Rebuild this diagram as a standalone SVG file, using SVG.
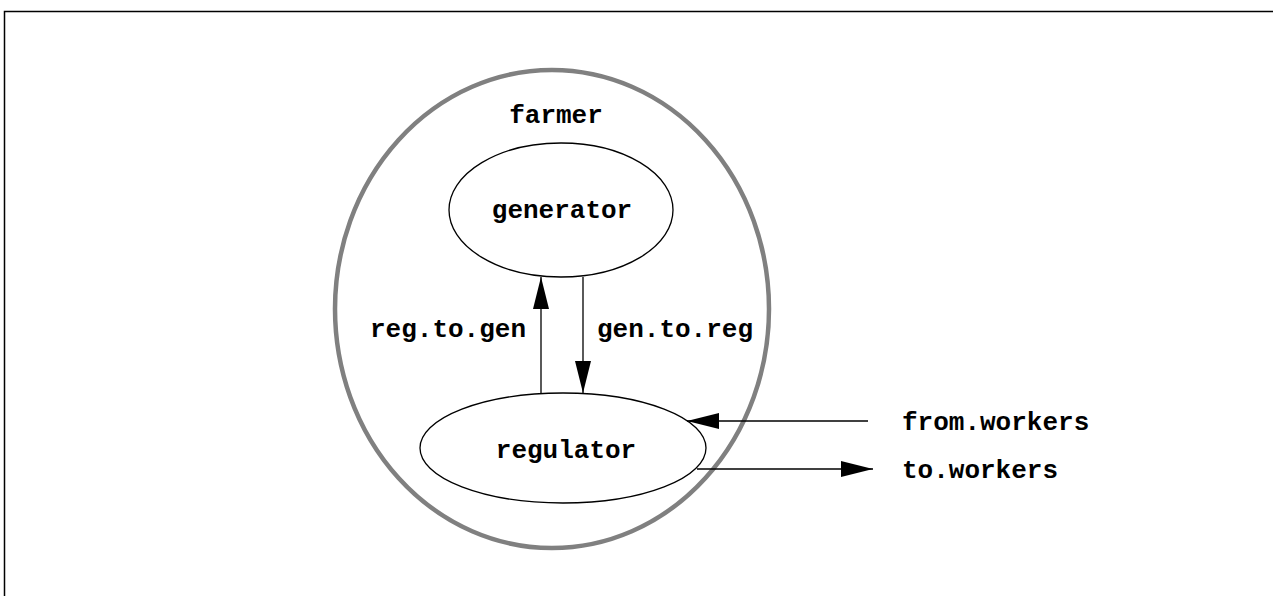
<svg xmlns="http://www.w3.org/2000/svg" width="1273" height="596" viewBox="0 0 1273 596">
<defs>
<style>
.t{font-family:"Liberation Mono","Courier New",monospace;font-weight:bold;font-size:26px;fill:#000}
.n{fill:none;stroke:#000;stroke-width:1.3}
.c{stroke:#000;stroke-width:1.3;fill:none}
</style>
<marker id="ah" viewBox="0 0 32 16" refX="32" refY="8" markerWidth="32" markerHeight="16" markerUnits="userSpaceOnUse" orient="auto">
<path d="M0,0 L32,8 L0,16 Z" fill="#000"/>
</marker>
</defs>
<rect width="1273" height="596" fill="#fff"/>
<rect x="4.5" y="11.5" width="1280" height="600" fill="none" stroke="#000" stroke-width="1.5"/>
<g id="farmer">
<ellipse cx="552" cy="309" rx="217" ry="239" fill="none" stroke="#808080" stroke-width="4.5"/>
<text class="t" x="556" y="123" text-anchor="middle">farmer</text>
</g>
<g id="generator">
<ellipse class="n" cx="561" cy="210" rx="112" ry="67"/>
<text class="t" x="562" y="218" text-anchor="middle">generator</text>
</g>
<g id="regulator">
<ellipse class="n" cx="563" cy="448" rx="143" ry="55"/>
<text class="t" x="566" y="458" text-anchor="middle">regulator</text>
</g>
<g id="connectors">
<line class="c" x1="541" y1="393" x2="541" y2="277" marker-end="url(#ah)"/>
<line class="c" x1="583" y1="277" x2="583" y2="393" marker-end="url(#ah)"/>
<line class="c" x1="868" y1="421" x2="687" y2="421" marker-end="url(#ah)"/>
<line class="c" x1="697" y1="469" x2="873" y2="469" marker-end="url(#ah)"/>
</g>
<g id="labels">
<text class="t" x="370" y="337">reg.to.gen</text>
<text class="t" x="597" y="337">gen.to.reg</text>
<text class="t" x="902" y="430">from.workers</text>
<text class="t" x="902" y="478">to.workers</text>
</g>
</svg>
